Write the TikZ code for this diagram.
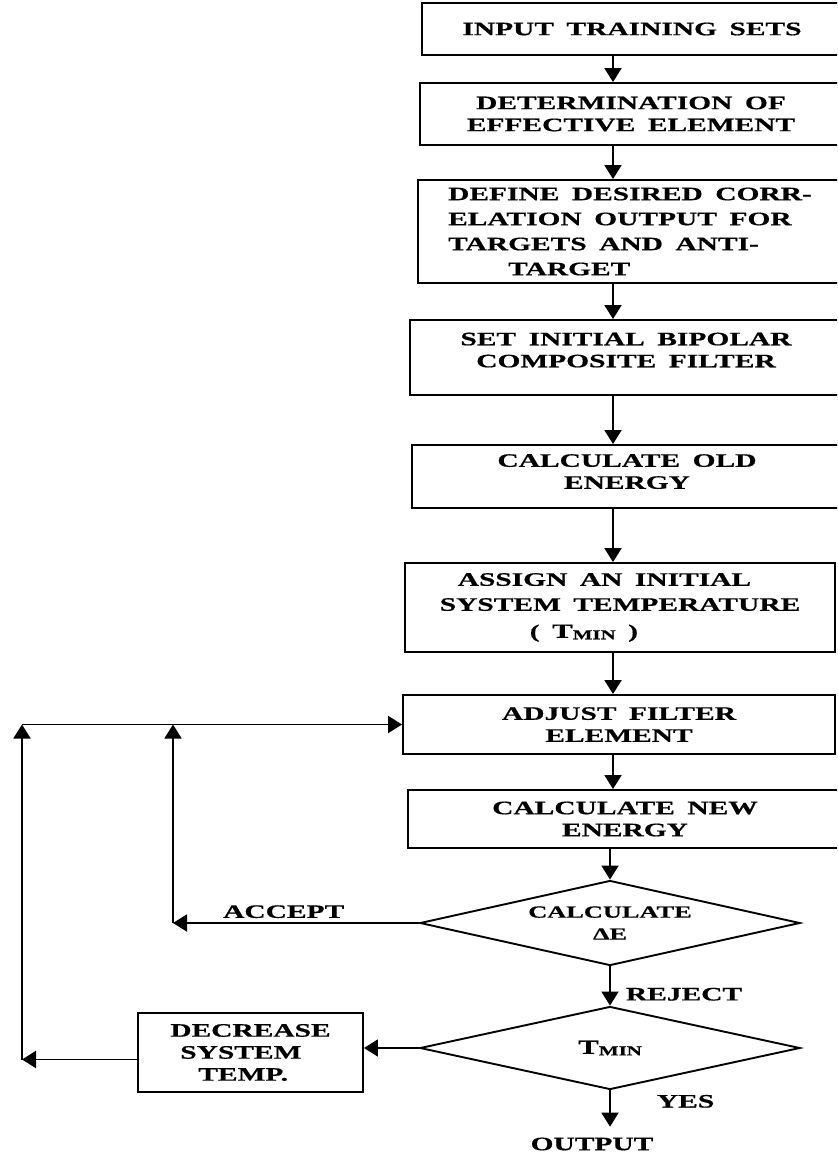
\documentclass[tikz,border=0pt]{standalone}
\usepackage{fontspec}
\setmainfont[FakeStretch=1.55,WordSpace=1.7,BoldFeatures={FakeBold=0.6}]{Liberation Serif}
\usetikzlibrary{arrows.meta,calc,positioning,shapes.geometric}
\newcommand{\Tmin}{{\fontsize{20}{22}\selectfont T}\raisebox{-1.5pt}{\fontsize{13.5}{14}\selectfont MIN}}

\begin{document}
\begin{tikzpicture}[x=1pt,y=-1pt,line width=1.9pt,
  >={Triangle[length=14pt,width=17pt]},
  font=\bfseries\fontsize{19}{22}\selectfont,
  box/.style={draw,align=center,inner sep=0pt},
  decide/.style={draw,diamond,aspect=4.5,inner sep=0pt,align=center,
    minimum width=380pt},
  tag/.style={inner sep=2pt}]
  \useasboundingbox (0,0) rectangle (837,1155);
  \clip (0,0) rectangle (837,1155);

  \coordinate (spine) at (613,0);
  \coordinate (acc) at (173,0);
  \coordinate (lp) at (22,0);

  \node[box,minimum width=420pt,minimum height=52pt] (b1) at (632,29)
    {INPUT TRAINING SETS};
  \node[box,minimum width=422pt,minimum height=62pt] (b2) at (631,114)
    {DETERMINATION OF\\EFFECTIVE ELEMENT};
  \node[box,align=left,minimum width=424pt,minimum height=103pt] (b3) at (630,231.5)
    {DEFINE DESIRED CORR-\\[3pt]ELATION OUTPUT FOR\\[3pt]TARGETS AND ANTI-\\[3pt]\hspace*{60pt}TARGET};
  \node[box,text depth=15pt,minimum width=432pt,minimum height=75pt] (b4) at (626,357.5)
    {SET INITIAL BIPOLAR\\COMPOSITE FILTER};
  \node[box,text depth=10pt,minimum width=430pt,minimum height=63pt] (b5) at (627,476.5)
    {CALCULATE OLD\\ENERGY};
  \node[box,align=left,minimum width=430pt,minimum height=89pt] (b6) at (620,607.5)
    {\hspace*{18pt}ASSIGN AN INITIAL\\[3pt]SYSTEM TEMPERATURE\\[5pt]\hspace*{90pt}( \Tmin\ )};
  \node[box,minimum width=432pt,minimum height=59pt] (b7) at (619,724.5)
    {ADJUST FILTER\\ELEMENT};
  \node[box,minimum width=434pt,minimum height=58pt] (b8) at (625,819)
    {CALCULATE NEW\\ENERGY};

  \node[decide,minimum height=85pt,font=\bfseries\fontsize{17}{22}\selectfont]
    (d1) at (610,923) {CALCULATE\\ΔE};
  \node[decide,minimum height=83pt] (d2) at (610,1048) {\Tmin};
  \node[box,align=left,minimum width=225pt,minimum height=79pt] (dec) at (250.5,1052.5)
    {DECREASE\\\hspace*{10pt}SYSTEM\\\hspace*{28pt}TEMP.};
  \node[tag] (out) at (592,1144) {OUTPUT};

  \draw[->] (b1.south -| spine) -- (b2.north -| spine);
  \draw[->] (b2.south -| spine) -- (b3.north -| spine);
  \draw[->] (b3.south -| spine) -- (b4.north -| spine);
  \draw[->] (b4.south -| spine) -- (b5.north -| spine);
  \draw[->] (b5.south -| spine) -- (b6.north -| spine);
  \draw[->] (b6.south -| spine) -- (b7.north -| spine);
  \draw[->] (b7.south -| spine) -- (b8.north -| spine);
  \draw[->] (b8.south -| d1.north) -- (d1.north);
  \draw[->] (d1.south) -- (d2.north) node[tag,pos=.71,right=13pt] {REJECT};
  \draw[->] (d2.south) -- ([yshift=8pt]d2.south |- out.north)
    node[tag,pos=.3,right=44pt] {YES};
  \draw[->] (d2.west) -- (dec.east |- d2.west);

  % loops back to the filter element
  \draw[->] (d1.west) -- (d1.west -| acc) node[tag,pos=.55,above=2pt] {ACCEPT};
  \draw[->] (d1.west -| acc) -- (b7.west -| acc);
  \coordinate (decout) at ([yshift=-7pt]dec.west);
  \draw[->] (decout) -- (decout -| lp);
  \draw[->] (decout -| lp) -- (b7.west -| lp);
  \draw[->] (b7.west -| lp) -- (b7.west);
\end{tikzpicture}
\end{document}
